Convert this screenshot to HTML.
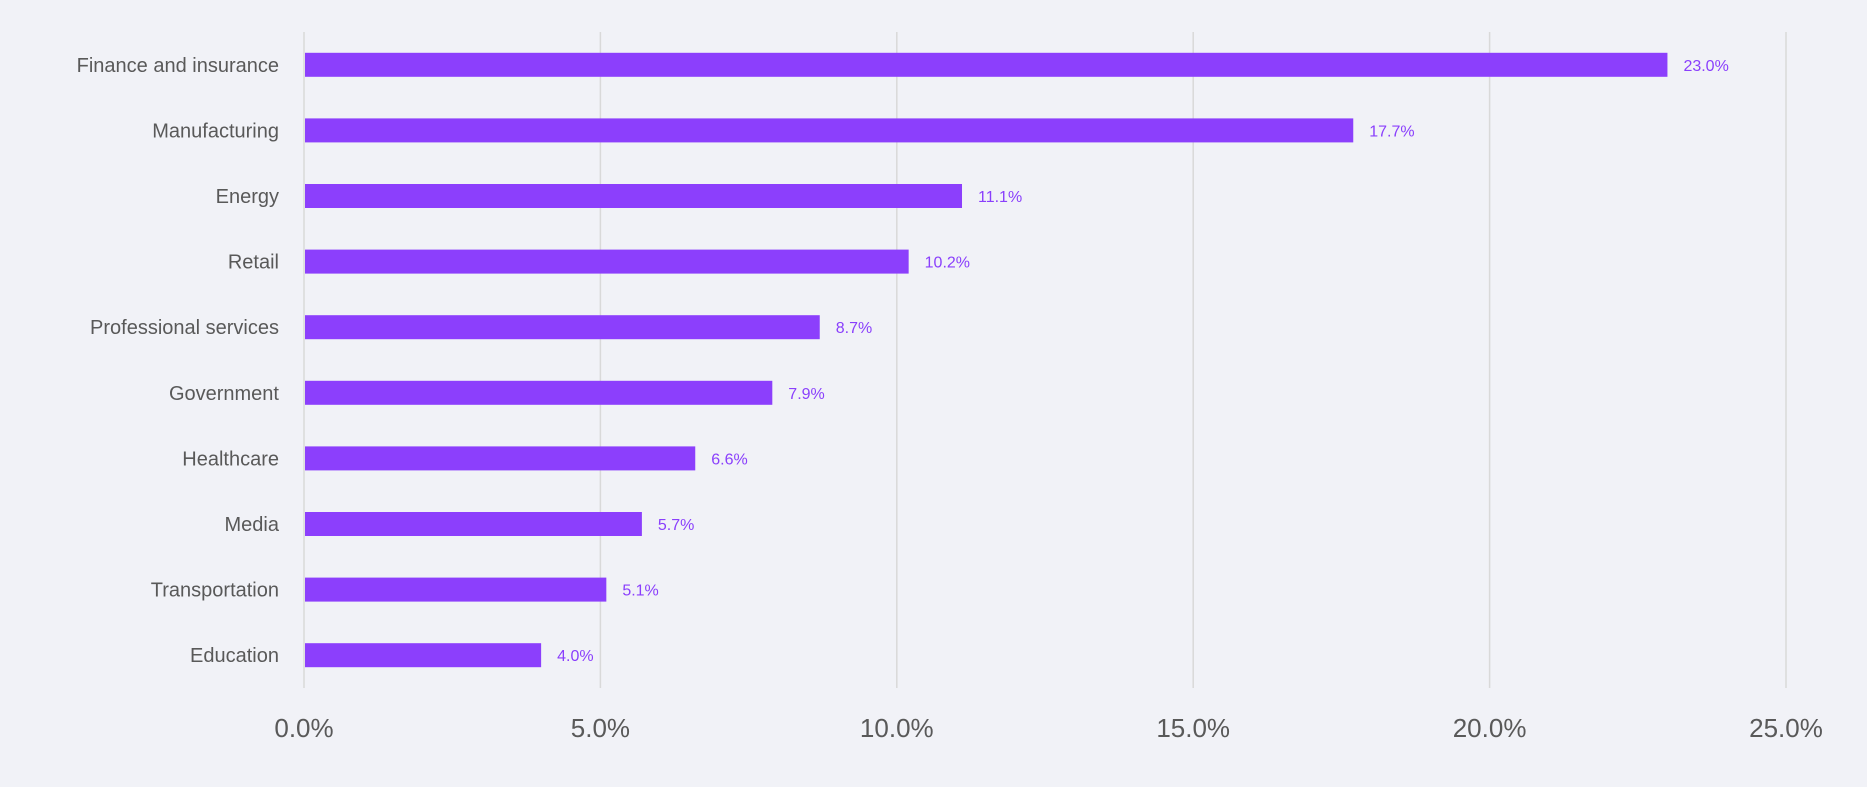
<!DOCTYPE html>
<html><head><meta charset="utf-8"><style>
html,body{margin:0;padding:0;background:#f1f2f7;}
svg{display:block;font-family:"Liberation Sans",sans-serif;}
</style></head><body>
<svg id="chart" width="1867" height="787" viewBox="0 0 1867 787">
<rect width="1867" height="787" fill="#f1f2f7"/>
<g id="grid"></g><g id="bars"></g><g id="labels"></g>
</svg>
<script>
const categories=["Finance and insurance","Manufacturing","Energy","Retail","Professional services","Government","Healthcare","Media","Transportation","Education"];
const values=[23.0,17.7,11.1,10.2,8.7,7.9,6.6,5.7,5.1,4.0];
const ticks=[0,5,10,15,20,25];
const tickLabels=["0.0%","5.0%","10.0%","15.0%","20.0%","25.0%"];
const NS="http://www.w3.org/2000/svg";
const x0=304,xPerUnit=(1786-304)/25,plotTop=32,plotBottom=688;
const band=(plotBottom-plotTop)/categories.length;
const xs=v=>x0+v*xPerUnit;
const ys=i=>plotTop+band*(i+0.5);
function mk(t,a,p){const e=document.createElementNS(NS,t);for(const k in a)e.setAttribute(k,a[k]);p.appendChild(e);return e;}
const g=document.getElementById('grid'),b=document.getElementById('bars'),l=document.getElementById('labels');
ticks.forEach((t,i)=>{
 const ln=mk('line',{x1:xs(t),x2:xs(t),y1:plotTop,y2:plotBottom,stroke:'#d9d9d9','stroke-width':1.5},g);
 
 
 const tx=mk('text',{x:xs(t),y:737,'text-anchor':'middle','font-size':26,fill:'#595959'},l);
 tx.textContent=tickLabels[i];
 
 
});
categories.forEach((c,i)=>{
 const r=mk('rect',{x:xs(0)+1,y:ys(i)-12,width:xs(values[i])-xs(0)-1,height:24,fill:'#8c3ffc'},b);
 
 
 const cl=mk('text',{x:279,y:ys(i)+7,'text-anchor':'end','font-size':20,fill:'#595959'},l);
 cl.textContent=c;
 
 
 const vl=mk('text',{x:xs(values[i])+16,y:ys(i)+6,'font-size':16,fill:'#8a3ffc'},l);
 vl.textContent=values[i].toFixed(1)+'%';
 
 
});
</script>
</body></html>
